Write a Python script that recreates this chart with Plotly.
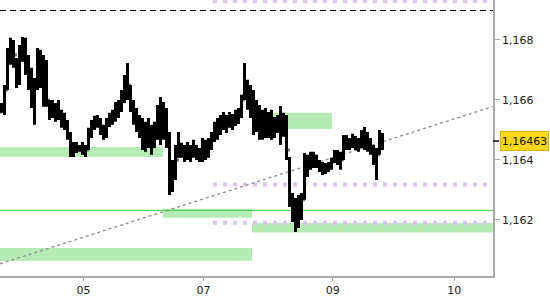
import plotly.graph_objects as go

# ---- price bars (EUR/USD style, 3px per bar in the reference) ----
highs = [1.16590, 1.16650, 1.16773, 1.16807, 1.16800, 1.16740, 1.16783, 1.16810, 1.16807, 1.16750,
         1.16707, 1.16673, 1.16773, 1.16767, 1.16750, 1.16733, 1.16600, 1.16600, 1.16590, 1.16600,
         1.16567, 1.16557, 1.16533, 1.16493, 1.16460, 1.16460, 1.16450, 1.16460, 1.16450, 1.16507,
         1.16533, 1.16547, 1.16550, 1.16540, 1.16517, 1.16540, 1.16557, 1.16567, 1.16593, 1.16600,
         1.16633, 1.16683, 1.16723, 1.16650, 1.16600, 1.16573, 1.16550, 1.16540, 1.16527, 1.16540,
         1.16517, 1.16527, 1.16583, 1.16610, 1.16593, 1.16573, 1.16493, 1.16400, 1.16450, 1.16493,
         1.16457, 1.16450, 1.16460, 1.16450, 1.16467, 1.16450, 1.16440, 1.16473, 1.16467, 1.16473,
         1.16493, 1.16527, 1.16540, 1.16550, 1.16560, 1.16550, 1.16560, 1.16553, 1.16567, 1.16573,
         1.16617, 1.16723, 1.16667, 1.16650, 1.16633, 1.16600, 1.16583, 1.16567, 1.16573, 1.16560,
         1.16567, 1.16543, 1.16550, 1.16580, 1.16557, 1.16550, 1.16410, 1.16290, 1.16273, 1.16283,
         1.16290, 1.16423, 1.16417, 1.16427, 1.16427, 1.16417, 1.16400, 1.16393, 1.16390, 1.16393,
         1.16407, 1.16433, 1.16433, 1.16427, 1.16483, 1.16483, 1.16473, 1.16487, 1.16480, 1.16473,
         1.16500, 1.16510, 1.16493, 1.16473, 1.16450, 1.16440, 1.16500, 1.16490]
lows = [1.16557, 1.16550, 1.16633, 1.16717, 1.16707, 1.16640, 1.16650, 1.16727, 1.16683, 1.16633,
        1.16573, 1.16517, 1.16633, 1.16640, 1.16577, 1.16577, 1.16533, 1.16540, 1.16527, 1.16533,
        1.16507, 1.16500, 1.16467, 1.16410, 1.16410, 1.16423, 1.16427, 1.16417, 1.16410, 1.16433,
        1.16473, 1.16500, 1.16507, 1.16483, 1.16467, 1.16473, 1.16510, 1.16517, 1.16527, 1.16540,
        1.16560, 1.16590, 1.16600, 1.16560, 1.16517, 1.16493, 1.16473, 1.16433, 1.16427, 1.16440,
        1.16417, 1.16440, 1.16467, 1.16450, 1.16467, 1.16440, 1.16283, 1.16293, 1.16333, 1.16407,
        1.16407, 1.16393, 1.16400, 1.16393, 1.16407, 1.16400, 1.16393, 1.16393, 1.16400, 1.16407,
        1.16433, 1.16460, 1.16467, 1.16483, 1.16500, 1.16490, 1.16507, 1.16500, 1.16513, 1.16520,
        1.16540, 1.16600, 1.16567, 1.16540, 1.16483, 1.16493, 1.16467, 1.16467, 1.16473, 1.16473,
        1.16467, 1.16473, 1.16490, 1.16450, 1.16477, 1.16400, 1.16243, 1.16193, 1.16160, 1.16173,
        1.16200, 1.16267, 1.16343, 1.16367, 1.16373, 1.16373, 1.16360, 1.16350, 1.16353, 1.16360,
        1.16367, 1.16390, 1.16383, 1.16367, 1.16400, 1.16433, 1.16433, 1.16440, 1.16433, 1.16427,
        1.16440, 1.16433, 1.16427, 1.16417, 1.16383, 1.16333, 1.16417, 1.16433]
closes = [1.16573, 1.16633, 1.16750, 1.16767, 1.16750, 1.16667, 1.16767, 1.16750, 1.16733, 1.16667,
          1.16633, 1.16650, 1.16733, 1.16683, 1.16633, 1.16600, 1.16567, 1.16560, 1.16567, 1.16550,
          1.16533, 1.16517, 1.16483, 1.16433, 1.16440, 1.16433, 1.16440, 1.16427, 1.16433, 1.16493,
          1.16517, 1.16533, 1.16527, 1.16507, 1.16483, 1.16533, 1.16540, 1.16550, 1.16573, 1.16583,
          1.16617, 1.16667, 1.16650, 1.16583, 1.16550, 1.16517, 1.16500, 1.16467, 1.16483, 1.16467,
          1.16450, 1.16500, 1.16533, 1.16567, 1.16517, 1.16467, 1.16333, 1.16350, 1.16400, 1.16433,
          1.16433, 1.16427, 1.16417, 1.16433, 1.16427, 1.16417, 1.16407, 1.16450, 1.16433, 1.16450,
          1.16473, 1.16507, 1.16517, 1.16527, 1.16540, 1.16533, 1.16540, 1.16533, 1.16550, 1.16560,
          1.16600, 1.16650, 1.16617, 1.16583, 1.16550, 1.16540, 1.16517, 1.16533, 1.16517, 1.16533,
          1.16517, 1.16500, 1.16517, 1.16533, 1.16517, 1.16433, 1.16283, 1.16233, 1.16217, 1.16233,
          1.16267, 1.16400, 1.16383, 1.16400, 1.16407, 1.16393, 1.16373, 1.16367, 1.16373, 1.16380,
          1.16393, 1.16417, 1.16407, 1.16400, 1.16467, 1.16460, 1.16450, 1.16467, 1.16460, 1.16450,
          1.16467, 1.16483, 1.16450, 1.16440, 1.16433, 1.16417, 1.16467, 1.16463]
first_open = 1.16560
opens = [first_open] + closes[:-1]
bar_index = list(range(len(closes)))

# ---- x axis labels (days) ----
day_ticks = [27.3, 67.3, 110.4, 150.9]
day_labels = ["05", "07", "09", "10"]

# ---- y axis ----
price_ticks = [1.162, 1.164, 1.166, 1.168]
y_range = [1.160133, 1.16933]
x_range = [-0.5, 163.83]
last_price = 1.16463

# ---- levels ----
dashed_level = 1.16898
green_level = 1.16232
purple_levels = [1.16930, 1.16318, 1.16191]
purple_start = 70.5
# zones: (x0, x1, low, high)
zone_x0 = [-0.5, 53.8, 83.5, -0.5, 83.8]
zone_x1 = [53.8, 83.5, 163.83, 83.5, 110.2]
zone_lo = [1.16410, 1.16207, 1.16158, 1.16063, 1.16503]
zone_hi = [1.16443, 1.16237, 1.16190, 1.16107, 1.16557]
trend_x = [-0.5, 163.83]
trend_y = [1.16054, 1.16578]

fig = go.Figure()

shapes = []
for x0, x1, lo, hi in zip(zone_x0, zone_x1, zone_lo, zone_hi):
    shapes.append(dict(type="rect", xref="x", yref="y", x0=x0, x1=x1, y0=lo, y1=hi,
                       fillcolor="#b5ebb5", line=dict(width=0), layer="below"))
shapes.append(dict(type="line", xref="x", yref="y", x0=x_range[0], x1=x_range[1],
                   y0=green_level, y1=green_level, line=dict(color="#3ccc3c", width=1), layer="below"))
shapes.append(dict(type="line", xref="x", yref="y", x0=x_range[0], x1=x_range[1],
                   y0=dashed_level, y1=dashed_level, line=dict(color="#000000", width=1.2, dash="6px,4px"),
                   layer="below"))
for lv in purple_levels:
    shapes.append(dict(type="line", xref="x", yref="y", x0=purple_start, x1=x_range[1],
                       y0=lv, y1=lv, line=dict(color="#dcc3f0", width=4, dash="4px,6px"), layer="below"))
shapes.append(dict(type="line", xref="x", yref="y", x0=trend_x[0], x1=trend_x[1],
                   y0=trend_y[0], y1=trend_y[1], line=dict(color="#8c8c8c", width=1.3, dash="dot"),
                   layer="below"))
# current price tick on the axis
shapes.append(dict(type="line", xref="paper", yref="y", x0=1, x1=1 + 6 / 493,
                   y0=last_price, y1=last_price, line=dict(color="#000000", width=1.5)))

fig.add_trace(go.Ohlc(
    x=bar_index, open=opens, high=highs, low=lows, close=closes,
    increasing=dict(line=dict(color="#000000", width=3)),
    decreasing=dict(line=dict(color="#000000", width=3)),
    tickwidth=0.35, hoverinfo="skip", showlegend=False,
))

font = dict(family="DejaVu Sans", size=11, color="#1a1a1a")

fig.update_layout(
    width=550, height=300,
    margin=dict(l=0, r=57, t=0, b=24),
    paper_bgcolor="white", plot_bgcolor="white",
    separators=",.",
    showlegend=False,
    shapes=shapes,
    font=font,
    xaxis=dict(range=x_range, rangeslider=dict(visible=False), showgrid=False, zeroline=False,
               showline=True, linecolor="#aaaaaa", linewidth=1.5,
               ticks="outside", ticklen=3, tickcolor="#aaaaaa",
               tickvals=day_ticks, ticktext=day_labels, tickfont=font),
    yaxis=dict(range=y_range, side="right", showgrid=False, zeroline=False,
               showline=True, linecolor="#aaaaaa", linewidth=1.5,
               ticks="outside", ticklen=5, tickcolor="#aaaaaa",
               tickvals=price_ticks, tickformat=".3f", tickfont=font),
    annotations=[dict(xref="paper", yref="y", x=1, y=last_price, xanchor="left", yanchor="middle",
                      xshift=7, text=f"{last_price:.5f}".replace(".", ","), showarrow=False,
                      font=dict(family="DejaVu Sans", size=11, color="#111111"),
                      bgcolor="#ffd814", bordercolor="#d9b200", borderwidth=1,
                      width=47, height=18, borderpad=0)],
)

fig.write_html("out.html")
